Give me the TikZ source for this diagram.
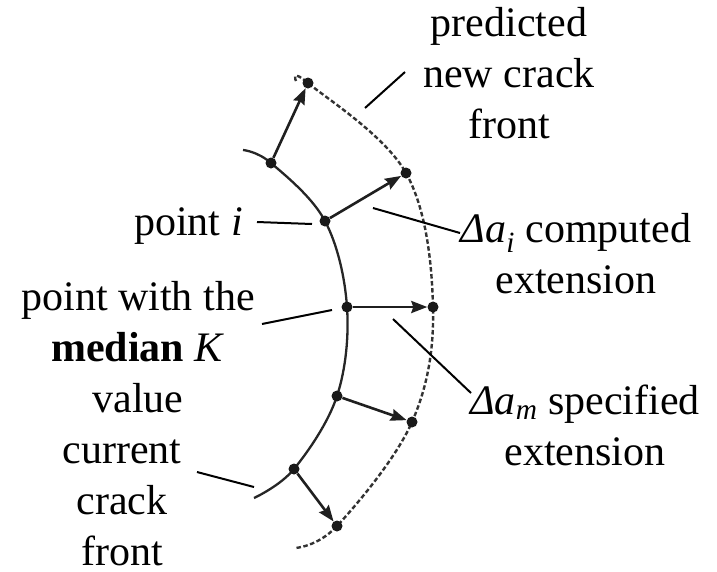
\documentclass[tikz,border=0pt]{standalone}
\usepackage{fontspec}
\setmainfont{Liberation Serif}
\usetikzlibrary{arrows.meta}
\begin{document}
\begin{tikzpicture}[x=1pt,y=-1pt,
  dot/.style={circle,fill=black!90,inner sep=0pt,minimum size=11pt},
  ext/.style={line width=2.6pt,draw=black!88,-{Stealth[length=16pt,width=12pt,inset=2pt]}},
  lead/.style={line width=2pt},
  front/.style={line width=2.3pt,draw=black!85},
  newfront/.style={line width=2.4pt,draw=black!80,dash pattern=on 4.5pt off 2.5pt},
  lbl/.style={font=\fontsize{42}{51}\selectfont,align=center,inner sep=0pt,anchor=base}]
\useasboundingbox (0,0) rectangle (717,571);
% points on the current crack front
\coordinate (s0) at (243,150);
\coordinate (c1) at (271,163);
\coordinate (c2) at (325,221);
\coordinate (c3) at (347,307);
\coordinate (c4) at (337,396);
\coordinate (c5) at (294,469);
\coordinate (s6) at (254,498);
% points on the predicted front
\coordinate (d0) at (296,81);
\coordinate (e1) at (308,83);
\coordinate (e2) at (406,173);
\coordinate (e3) at (433,307);
\coordinate (e4) at (412,422);
\coordinate (e5) at (337,526);
\coordinate (d6) at (295,548);
% curves
\draw[front] plot[smooth,tension=0.6] coordinates {(s0) (c1) (c2) (c3) (c4) (c5) (s6)};
\draw[newfront] plot[smooth,tension=0.6] coordinates {(d0) (e1) (e2) (e3) (e4) (e5) (d6)};
% dots
\foreach \i in {1,...,5} {
  \node[dot] (p\i) at (c\i) {};
  \node[dot] (q\i) at (e\i) {};
}
% extension arrows
\foreach \i in {1,...,5} {
  \draw[ext] (p\i) -- (q\i);
}
% labels (base anchor = baseline of the last line)
\node[lbl] (tpred) at (509,138) {predicted\\new crack\\front};
\node[lbl,anchor=base east] (tpi) at (243,235) {point \textit{i}};
\node[lbl] (tmed) at (138,412) {point with the\\\textbf{median} \textit{K}\\value};
\node[lbl] (tcur) at (122,565) {current\\crack\\front};
\node[lbl] (tdai) at (576,293) {\textit{Δa}\textsubscript{\textit{i}} computed\\extension};
\node[lbl] (tdam) at (585,465) {\textit{Δa}\textsubscript{\textit{m}} specified\\extension};
% leader lines
\coordinate (l1a) at (365,108); \coordinate (l1b) at (405,72);
\coordinate (l2a) at (257,222); \coordinate (l2b) at (312,224);
\coordinate (l3a) at (373,208); \coordinate (l3b) at (460,233);
\coordinate (l4a) at (262,324); \coordinate (l4b) at (332,310);
\coordinate (l5a) at (393,319); \coordinate (l5b) at (471,393);
\coordinate (l6a) at (197,472); \coordinate (l6b) at (254,487);
\draw[lead] (l1a) -- (l1b);
\draw[lead] (l2a) -- (l2b);
\draw[lead] (l3a) -- (l3b);
\draw[lead] (l4a) -- (l4b);
\draw[lead] (l5a) -- (l5b);
\draw[lead] (l6a) -- (l6b);
\end{tikzpicture}
\end{document}
